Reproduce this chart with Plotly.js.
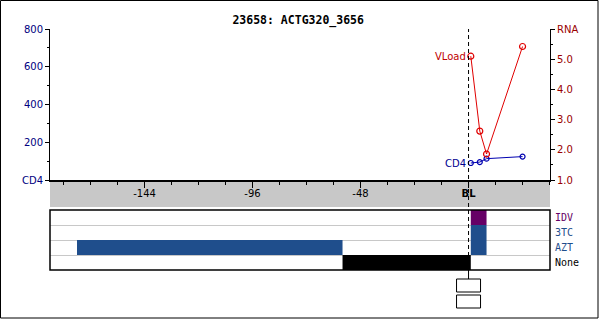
<!DOCTYPE html>
<html><head><meta charset="utf-8">
<script src="https://cdn.plot.ly/plotly-3.0.1.min.js"></script>
<style>html,body{margin:0;padding:0;background:#fff}#chart{width:600px;height:319px}</style>
</head><body><div id="chart"></div>
<script>
// ---- data ----
const titleText = '23658: ACTG320_3656';
const xTickVals = [-144, -96, -48, 0];
const xTickText = ['-144', '-96', '-48', '<b>BL</b>'];
const cd4TickVals = [0, 200, 400, 600, 800];
const cd4TickText = ['CD4', '200', '400', '600', '800'];
const rnaTickVals = [1, 2, 3, 4, 5, 6];
const rnaTickText = ['1.0', '2.0', '3.0', '4.0', '5.0', 'RNA'];

const vlDays = [1, 5, 8, 24];
const vlValues = [5.1, 2.62, 1.86, 5.42];
const cd4Days = [1, 5, 8, 24];
const cd4Values = [90, 95, 113, 124];

const drugRows = ['None', 'AZT', '3TC', 'IDV'];
const drugColors = {None: '#000000', AZT: '#1f4e8c', '3TC': '#1f4e8c', IDV: '#660066'};
const segDrug = ['None', 'AZT', 'AZT', '3TC', 'IDV'];
const segStart = [-56, -174, 1, 1, 1];
const segEnd = [1, -56, 8, 8, 8];

// ---- layout constants ----
const H = 319, W = 600, mL = 50, mR = 50, mT = 29, mB = 49;
const plotH = H - mT - mB, plotW = W - mL - mR;
const py = (pix) => (H - mB - pix) / plotH;   // pixel y -> paper
const px = (pix) => (pix - mL) / plotW;       // pixel x -> paper

const traces = [];
traces.push({
  x: cd4Days, y: cd4Values, xaxis: 'x', yaxis: 'y', type: 'scatter', mode: 'lines+markers',
  line: {color: '#0000b0', width: 1},
  marker: {symbol: 'circle-open', size: 5, color: '#0000b0', line: {width: 1.2}},
  hoverinfo: 'skip', cliponaxis: false
});
traces.push({
  x: vlDays, y: vlValues, xaxis: 'x', yaxis: 'y2', type: 'scatter', mode: 'lines+markers',
  line: {color: '#e00000', width: 1},
  marker: {symbol: 'circle-open', size: 6, color: '#e00000', line: {width: 1.2}},
  hoverinfo: 'skip', cliponaxis: false
});
// treatment bars
segDrug.forEach((d, i) => {
  traces.push({
    type: 'bar', orientation: 'h', xaxis: 'x', yaxis: 'y3',
    y: [d], base: [segStart[i]], x: [segEnd[i] - segStart[i]],
    width: [1], marker: {color: drugColors[d], line: {width: 0}},
    hoverinfo: 'skip'
  });
});

const annotations = [
  {xref: 'x', yref: 'y2', x: vlDays[0], y: vlValues[0], text: 'VLoad', showarrow: false,
   xanchor: 'right', yanchor: 'middle', xshift: -3, font: {family: 'DejaVu Sans', size: 10, color: '#c00000'}},
  {xref: 'x', yref: 'y', x: cd4Days[0], y: cd4Values[0], text: 'CD4', showarrow: false,
   xanchor: 'right', yanchor: 'middle', xshift: -3, font: {family: 'DejaVu Sans', size: 10, color: '#000090'}}
];
drugRows.forEach(d => {
  annotations.push({xref: 'paper', yref: 'y3', x: px(553), y: d, text: d, showarrow: false,
    xanchor: 'left', yanchor: 'middle', font: {family: 'DejaVu Sans Mono', size: 10, color: drugColors[d]}});
});

const shapes = [
  // gray band behind x tick labels
  {type: 'rect', xref: 'paper', yref: 'paper', x0: 0, x1: 1, y0: py(207), y1: py(180),
   fillcolor: '#c8c8c8', line: {width: 0}, layer: 'below'},
  // treatment panel border
  {type: 'rect', xref: 'paper', yref: 'paper', x0: 0, x1: 1, y0: 0, y1: py(210),
   line: {color: '#000', width: 1.5}, fillcolor: 'rgba(0,0,0,0)'},
  // baseline dashed line
  {type: 'line', xref: 'x', yref: 'paper', x0: 0, x1: 0, y0: 0, y1: 1,
   line: {color: '#000', width: 1, dash: '4px,3px'}},
  {type: 'line', xref: 'x', yref: 'paper', x0: 0, x1: 0, y0: py(279), y1: 0,
   line: {color: '#000', width: 1}},
  // small boxes below baseline
  {type: 'rect', xref: 'x', yref: 'paper', xsizemode: 'pixel', xanchor: 0, x0: -12, x1: 12,
   y0: py(292), y1: py(279), line: {color: '#000', width: 1}, fillcolor: '#fff'},
  {type: 'rect', xref: 'x', yref: 'paper', xsizemode: 'pixel', xanchor: 0, x0: -12, x1: 12,
   y0: py(308), y1: py(295), line: {color: '#000', width: 1}, fillcolor: '#fff'},
  // outer border
  {type: 'rect', xref: 'paper', yref: 'paper', x0: px(0.5), x1: px(598), y0: py(318), y1: py(0.5),
   line: {color: '#000', width: 1}, fillcolor: 'rgba(0,0,0,0)'}
];

const tickFont = {family: 'DejaVu Sans', size: 10};
const layout = {
  width: W, height: H, margin: {l: mL, r: mR, t: mT, b: mB, pad: 0},
  paper_bgcolor: '#fff', plot_bgcolor: 'rgba(0,0,0,0)',
  showlegend: false, barmode: 'overlay',
  title: {text: '<b>' + titleText + '</b>', xref: 'container', yref: 'container', x: 0.497, y: 1 - 20 / H,
    xanchor: 'center', yanchor: 'middle', font: {family: 'DejaVu Sans Mono', size: 11.5, color: '#000'}},
  xaxis: {
    range: [-186, 36.2], anchor: 'y', domain: [0, 1],
    tickvals: xTickVals, ticktext: xTickText, ticks: 'outside', ticklen: 6, tickcolor: '#000', tickwidth: 1,
    ticklabelstandoff: -3,
    minor: {dtick: 12, tick0: 0, ticks: 'outside', ticklen: 3, tickcolor: '#000', showgrid: false},
    showline: true, linecolor: '#000', linewidth: 2, showgrid: false, zeroline: false,
    tickfont: Object.assign({color: '#000'}, tickFont), fixedrange: true
  },
  yaxis: {
    range: [0, 800], domain: [py(180), 1], anchor: 'x',
    tickvals: cd4TickVals, ticktext: cd4TickText, ticks: 'outside', ticklen: 4, tickcolor: '#000',
    minor: {dtick: 100, tick0: 0, ticks: 'outside', ticklen: 2, tickcolor: '#000', showgrid: false},
    showline: true, linecolor: '#000', linewidth: 1, showgrid: false, zeroline: false,
    tickfont: Object.assign({color: '#000080'}, tickFont), fixedrange: true
  },
  yaxis2: {
    range: [1, 6], overlaying: 'y', side: 'right', anchor: 'x',
    tickvals: rnaTickVals, ticktext: rnaTickText, ticks: 'outside', ticklen: 4, tickcolor: '#000',
    minor: {dtick: 0.5, tick0: 0, ticks: 'outside', ticklen: 2, tickcolor: '#000', showgrid: false},
    showline: true, linecolor: '#000', linewidth: 1, showgrid: false, zeroline: false,
    tickfont: Object.assign({color: '#990000'}, tickFont), fixedrange: true
  },
  yaxis3: {
    domain: [0, py(210)], anchor: 'free', position: 0, type: 'category',
    categoryorder: 'array', categoryarray: drugRows, range: [-0.5, 3.5],
    tickson: 'boundaries', showgrid: true, gridcolor: '#c8c8c8', gridwidth: 1,
    showticklabels: false, ticks: '', showline: false, zeroline: false, fixedrange: true
  },
  annotations: annotations,
  shapes: shapes
};

Plotly.newPlot('chart', traces, layout, {staticPlot: true, displayModeBar: false});
</script></body></html>
